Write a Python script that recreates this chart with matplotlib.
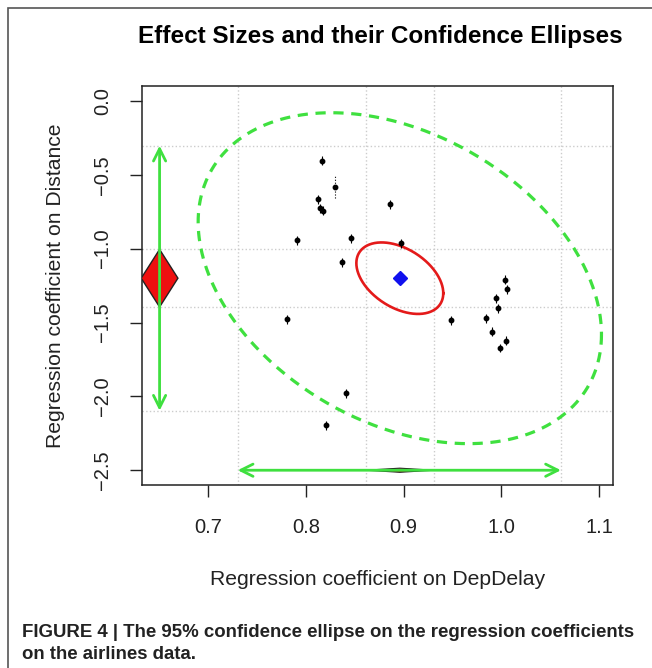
import numpy as np
import matplotlib.pyplot as plt
from matplotlib.patches import Polygon, Rectangle

plt.rcParams['font.family'] = ['Liberation Sans', 'DejaVu Sans']

# per-airline regression coefficients (DepDelay, Distance)
bx = [0.8166, 0.8292, 0.8125, 0.8142, 0.8170, 0.8855, 0.7910, 0.8459, 0.8970,
      0.8367, 0.7808, 0.9485, 0.8405, 0.8207, 1.0034, 1.0061, 0.9949, 0.9966,
      0.9847, 0.9908, 1.0051, 0.9983]
by = [-0.406, -0.584, -0.665, -0.726, -0.742, -0.701, -0.943, -0.929, -0.963,
      -1.091, -1.477, -1.486, -1.978, -2.197, -1.211, -1.274, -1.337, -1.405,
      -1.472, -1.563, -1.622, -1.673]
berr = [0.03, 0.075, 0.03, 0.03, 0.03, 0.03, 0.03, 0.03, 0.03, 0.03, 0.03,
        0.03, 0.03, 0.03, 0.03, 0.03, 0.03, 0.03, 0.03, 0.03, 0.03, 0.03]

# pooled estimate
cx, cy = 0.896, -1.200
# inner (red) and outer (green) marginal intervals
inner_x = [0.861, 0.931]
inner_y = [-1.005, -1.395]
outer_x = [0.730, 1.061]
outer_y = [-0.303, -2.097]
# ellipses: half extents and correlation
red_hx, red_hy, red_rho = 0.0445, 0.242, -0.42
green_hx, green_hy, green_rho = 0.2065, 1.12, -0.34

xticks = [0.7, 0.8, 0.9, 1.0, 1.1]
yticks = [0.0, -0.5, -1.0, -1.5, -2.0, -2.5]

green = '#3fe03f'

fig = plt.figure(figsize=(6.52, 6.68), dpi=100)
fig.patches.append(Rectangle((8 / 652, -0.1), 1.2, 1 - 8 / 668 + 0.1, transform=fig.transFigure,
                             fill=False, edgecolor='#555555', lw=1.2))
ax = fig.add_axes([142 / 652, 1 - 485 / 668, 471 / 652, 399 / 668])

for g in inner_x + outer_x:
    ax.axvline(g, color='#cccccc', ls=':', lw=1, zorder=0)
for g in inner_y + outer_y:
    ax.axhline(g, color='#cccccc', ls=':', lw=1, zorder=0)

t = np.linspace(0, 2 * np.pi, 400)
ax.plot(cx + green_hx * np.cos(t), cy + green_hy * np.cos(t + np.arccos(green_rho)),
        color=green, lw=2.3, ls=(0, (3.2, 2.4)))
ax.plot(cx + red_hx * np.cos(t), cy + red_hy * np.cos(t + np.arccos(red_rho)),
        color='#e41a1a', lw=1.9)

# points with error bars
for i in range(len(bx)):
    eb = ax.errorbar(bx[i], by[i], yerr=berr[i], fmt='o', color='black', ms=3.2,
                     capsize=0, elinewidth=0.8)
    if berr[i] > 0.05:
        eb[2][0].set_linestyle(':')

ax.plot(cx, cy, 'D', color='#1010ee', ms=7.5)

# red diamond (marginal CI on Distance)
dw = 0.0188
ax.add_patch(Polygon([(0.65, inner_y[0]), (0.65 + dw, cy), (0.65, inner_y[1]), (0.65 - dw, cy)],
                     closed=True, facecolor='#ee1010', edgecolor='#222222', lw=1, zorder=3))
# flat diamond (marginal CI on DepDelay)
dh = 0.014
ax.add_patch(Polygon([(inner_x[0], -2.5), (cx, -2.5 + dh), (inner_x[1], -2.5), (cx, -2.5 - dh)],
                     closed=True, facecolor='#aa2a10', edgecolor='#222222', lw=0.8, zorder=3))

arrow = dict(arrowstyle='<->', color=green, lw=2, mutation_scale=22, shrinkA=0, shrinkB=0)
ax.annotate('', xy=(0.65, outer_y[0]), xytext=(0.65, outer_y[1]), arrowprops=arrow, zorder=4)
ax.annotate('', xy=(outer_x[0], -2.5), xytext=(outer_x[1], -2.5), arrowprops=arrow, zorder=4)

ax.set_xlim(0.632, 1.1143)
ax.set_ylim(-2.60, 0.101)
ax.set_xticks(xticks)
ax.set_yticks(yticks)
ax.set_yticklabels(['0.0', '\u22120.5', '\u22121.0', '\u22121.5', '\u22122.0', '\u22122.5'],
                   rotation=90, va='center')
ax.tick_params(axis='both', direction='out', length=8.5, width=1, labelsize=14.5, colors='#222222')
ax.tick_params(axis='x', pad=15)
ax.tick_params(axis='y', pad=13)
for s in ax.spines.values():
    s.set_linewidth(1.1)
    s.set_color('#222222')

ax.set_xlabel('Regression coefficient on DepDelay', fontsize=15.2, color='#222222', labelpad=24)
ax.set_ylabel('Regression coefficient on Distance', fontsize=15.2, color='#222222', labelpad=20)
fig.text(380 / 652, 1 - 37 / 668, 'Effect Sizes and their Confidence Ellipses',
         fontsize=17.5, fontweight='bold', ha='center', va='center')

fig.text(22 / 652, 1 - 637 / 668, 'FIGURE 4 | The 95% confidence ellipse on the regression coefficients',
         fontsize=13.4, fontweight='bold', ha='left', va='baseline', color='#222222')
fig.text(22 / 652, 1 - 659 / 668, 'on the airlines data.',
         fontsize=13.4, fontweight='bold', ha='left', va='baseline', color='#222222')

fig.savefig('out.png', dpi=100)
